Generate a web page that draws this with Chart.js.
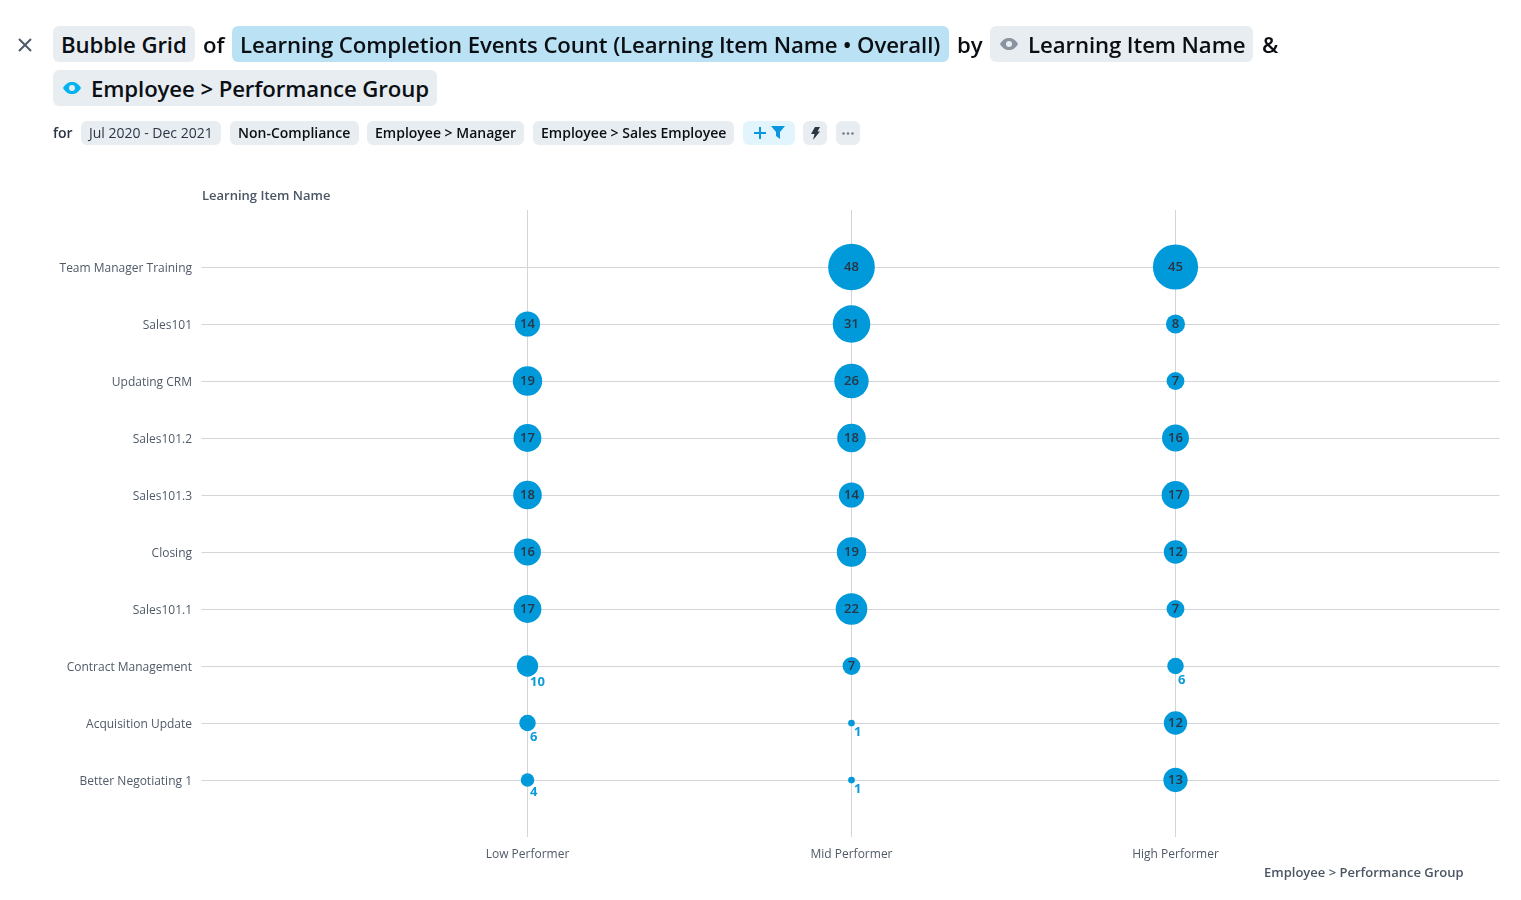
<!DOCTYPE html>
<html>
<head>
<meta charset="utf-8">
<title>Bubble Grid</title>
<script src="https://cdn.jsdelivr.net/npm/chart.js@4"></script>
<style>
    html, body { margin: 0; padding: 0; background: #fff; overflow: hidden; }
    body { width: 1521px; height: 900px; position: relative; font-family: "Open Sans", sans-serif; color: #0b0f14; }
    #chart { position: absolute; left: 0; top: 0; }
    .chip, .word, .axisTitle { position: absolute; white-space: nowrap; box-sizing: border-box; }
    .chip { background: #e8edf2; border-radius: 6px; }
    .big { height: 36px; line-height: 38px; font-size: 22.2px; padding-left: 8px; font-weight: 600; letter-spacing: -0.1px; }
    .small { height: 24px; line-height: 24px; font-size: 14px; padding-left: 8px; font-weight: 600; }
    .word { font-size: 22.2px; line-height: 38px; font-weight: 600; }
    .blue { background: #bae2f4; }
    .axisTitle { font-size: 13px; font-weight: 600; color: #4b5664; line-height: 18px; }
    svg { position: absolute; }
</style>
</head>
<body>
<canvas id="chart" width="1521" height="900"></canvas>

<svg style="left:18px;top:38px" width="14" height="14" viewBox="0 0 14 14"><path d="M1 1L13 13M13 1L1 13" stroke="#4f5a68" stroke-width="2"/></svg>
<div class="chip big" style="left:53px;top:26px;width:142px">Bubble Grid</div>
<div class="word" style="left:203px;top:26px">of</div>
<div class="chip big blue" style="left:232px;top:26px;width:717px">Learning Completion Events Count (Learning Item Name • Overall)</div>
<div class="word" style="left:957px;top:26px">by</div>
<div class="chip big" style="left:990px;top:26px;width:263px;padding-left:38px">Learning Item Name
    <svg style="left:10px;top:12px" width="18" height="12" viewBox="0 0 18 12"><path d="M0 6C3 1 6 0 9 0s6 1 9 6c-3 5-6 6-9 6s-6-1-9-6z" fill="#8a93a0"/><circle cx="9" cy="6" r="3" fill="#e8edf2"/></svg>
</div>
<div class="word" style="left:1262px;top:26px">&amp;</div>
<div class="chip big" style="left:53px;top:70px;width:384px;padding-left:38px">Employee &gt; Performance Group
    <svg style="left:10px;top:12px" width="18" height="12" viewBox="0 0 18 12"><path d="M0 6C3 1 6 0 9 0s6 1 9 6c-3 5-6 6-9 6s-6-1-9-6z" fill="#00b2f0"/><circle cx="9" cy="6" r="3" fill="#e8edf2"/></svg>
</div>

<div class="word" style="left:53px;top:121px;font-size:14px;line-height:24px;font-weight:600;color:#2b3544">for</div>
<div class="chip small" style="left:81px;top:121px;width:140px;font-weight:500;color:#2b3544">Jul 2020 - Dec 2021</div>
<div class="chip small" style="left:230px;top:121px;width:129px">Non-Compliance</div>
<div class="chip small" style="left:367px;top:121px;width:157px">Employee &gt; Manager</div>
<div class="chip small" style="left:533px;top:121px;width:201px">Employee &gt; Sales Employee</div>
<div class="chip small" style="left:743px;top:121px;width:52px;background:#e2f5fd">
    <svg style="left:11px;top:6px" width="12" height="12" viewBox="0 0 12 12"><path d="M6 0V12M0 6H12" stroke="#0a97e0" stroke-width="2"/></svg>
    <svg style="left:28px;top:5px" width="14" height="13" viewBox="0 0 14 13"><path d="M0 0H14L9 6V13L5 10V6z" fill="#0a97e0"/></svg>
</div>
<div class="chip small" style="left:803px;top:121px;width:24px">
    <svg style="left:8px;top:6px" width="9" height="13" viewBox="0 0 9 13"><path d="M4 0H9L6.5 4.5H9L2 13L3.5 7H0z" fill="#2b3544"/></svg>
</div>
<div class="chip small" style="left:836px;top:121px;width:24px">
    <svg style="left:6px;top:11px" width="12" height="3" viewBox="0 0 12 3"><circle cx="1.5" cy="1.5" r="1.2" fill="#6b7583"/><circle cx="6" cy="1.5" r="1.2" fill="#6b7583"/><circle cx="10.5" cy="1.5" r="1.2" fill="#6b7583"/></svg>
</div>

<div class="axisTitle" style="left:202px;top:186px">Learning Item Name</div>
<div class="axisTitle" style="left:1264px;top:863px">Employee &gt; Performance Group</div>

<script>
// rows top to bottom, values are Low / Mid / High performer (null = no bubble)
const groups = ['Low Performer', 'Mid Performer', 'High Performer']
const rows = [
    ['Team Manager Training', [null, 48, 45]],
    ['Sales101', [14, 31, 8]],
    ['Updating CRM', [19, 26, 7]],
    ['Sales101.2', [17, 18, 16]],
    ['Sales101.3', [18, 14, 17]],
    ['Closing', [16, 19, 12]],
    ['Sales101.1', [17, 22, 7]],
    ['Contract Management', [10, 7, 6]],
    ['Acquisition Update', [6, 1, 12]],
    ['Better Negotiating 1', [4, 1, 13]]
]

let points = []
rows.forEach(([name, values]) => {
    values.forEach((v, i) => {
        if (v !== null) points.push({ x: groups[i], y: name, v: v })
    })
})

const bubbleSize = (v) => 3.37 * Math.sqrt(v)

// empty categories at both ends give the grid its margins
const xLabels = [''].concat(groups, [' '])
const yLabels = [''].concat(rows.map(r => r[0]), [' '])

const hideEnds = (ctx) => ctx.tick && ctx.tick.label.toString().trim() === '' ? 'rgba(0,0,0,0)' : '#d3d5d8'

const valueLabels = {
    id: 'valueLabels',
    afterDatasetsDraw(chart) {
        const c = chart.ctx
        c.save()
        c.textBaseline = 'middle'
        chart.getDatasetMeta(0).data.forEach((el, i) => {
            const v = points[i].v
            const r = bubbleSize(v)
            // the label goes under the bubble when it does not fit inside
            if (v < 7 || v === 10) {
                c.font = '700 13px "Open Sans"'
                c.fillStyle = '#0b9bdc'
                c.textAlign = 'left'
                c.fillText(v, el.x + 2.5, el.y + r + 6)
            } else {
                c.font = '600 13px "Open Sans"'
                c.fillStyle = '#2b3544'
                c.textAlign = 'center'
                c.fillText(v, el.x, el.y)
            }
        })
        c.restore()
    }
}

const chart = new Chart(document.getElementById('chart'), {
    type: 'bubble',
    data: {
        datasets: [{
            data: points,
            backgroundColor: '#0099da',
            borderWidth: 0,
            hoverBorderWidth: 0,
            radius: (ctx) => ctx.raw ? bubbleSize(ctx.raw.v) : 0
        }]
    },
    plugins: [valueLabels],
    options: {
        responsive: false,
        animation: false,
        // autoPadding would reserve room for the biggest bubble on the right
        layout: { autoPadding: false, padding: { top: 210, right: 21.5, left: 0, bottom: 0 } },
        plugins: { legend: { display: false }, tooltip: { enabled: false } },
        scales: {
            x: {
                type: 'category',
                labels: xLabels,
                offset: false,
                afterFit: (axis) => { axis.height = 63 },
                border: { display: false },
                grid: { color: hideEnds, drawTicks: false },
                ticks: { autoSkip: false, maxRotation: 0, color: '#4f5a68', padding: 10, font: { family: 'Open Sans', size: 12 } }
            },
            y: {
                type: 'category',
                labels: yLabels,
                offset: false,
                afterFit: (axis) => { axis.width = 203.5 },
                border: { display: false },
                grid: { color: hideEnds, tickLength: 2 },
                ticks: { autoSkip: false, color: '#4f5a68', padding: 9.5, labelOffset: 2, font: { family: 'Open Sans', size: 12 } }
            }
        }
    }
})
</script>
</body>
</html>
